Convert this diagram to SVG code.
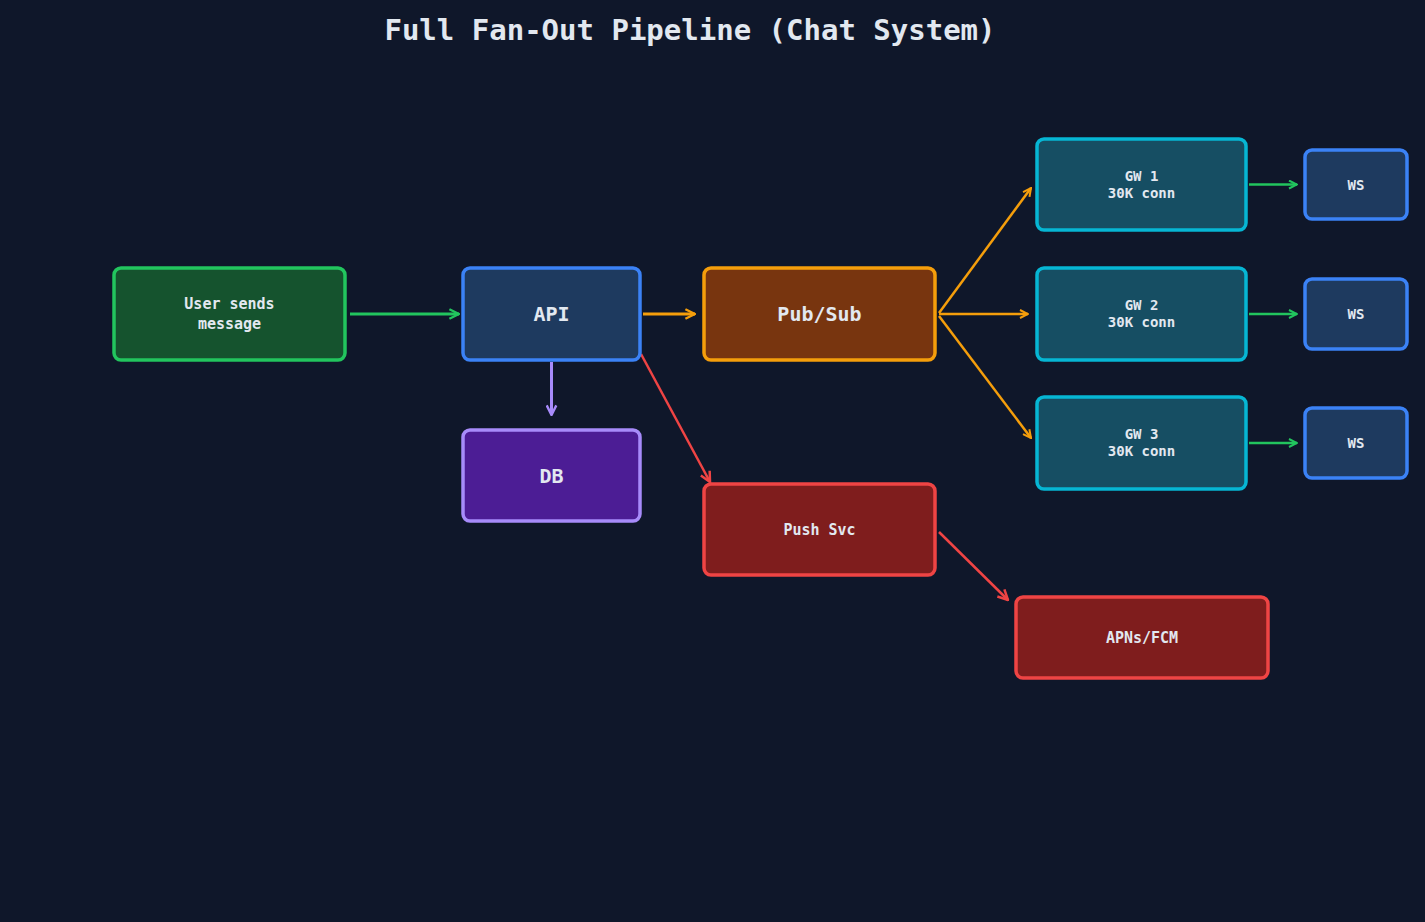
<svg xmlns="http://www.w3.org/2000/svg" width="1425" height="922" viewBox="0 0 1425 922">
<style>
text{font-family:"DejaVu Sans Mono","Liberation Mono",monospace;fill:#e2e8f0;text-anchor:middle;dominant-baseline:central;font-weight:bold}
.n rect{stroke-width:3.5}
.s{font-size:15px}.b{font-size:20px}
.c line{fill:none}
</style>
<defs>
<marker id="mg" viewBox="0 0 10 10" refX="9" refY="5" markerWidth="4" markerHeight="4" orient="auto" markerUnits="strokeWidth"><polyline points="1,1 9,5 1,9" fill="none" stroke="#22c55e" stroke-width="2"/></marker>
<marker id="mo" viewBox="0 0 10 10" refX="9" refY="5" markerWidth="4" markerHeight="4" orient="auto" markerUnits="strokeWidth"><polyline points="1,1 9,5 1,9" fill="none" stroke="#f59e0b" stroke-width="2"/></marker>
<marker id="mp" viewBox="0 0 10 10" refX="9" refY="5" markerWidth="4" markerHeight="4" orient="auto" markerUnits="strokeWidth"><polyline points="1,1 9,5 1,9" fill="none" stroke="#a78bfa" stroke-width="2"/></marker>
<marker id="mr" viewBox="0 0 10 10" refX="9" refY="5" markerWidth="5" markerHeight="5" orient="auto" markerUnits="strokeWidth"><polyline points="1,1 9,5 1,9" fill="none" stroke="#ef4444" stroke-width="2"/></marker>
</defs>
<rect width="1425" height="922" fill="#0f172a"/>
<text x="690" y="30" font-size="29">Full Fan-Out Pipeline (Chat System)</text>
<g class="c">
<line x1="350" y1="314" x2="459" y2="314" stroke="#22c55e" stroke-width="3" marker-end="url(#mg)"/>
<line x1="643" y1="314" x2="695" y2="314" stroke="#f59e0b" stroke-width="3" marker-end="url(#mo)"/>
<line x1="551.5" y1="362" x2="551.5" y2="415" stroke="#a78bfa" stroke-width="3" marker-end="url(#mp)"/>
<line x1="641" y1="354" x2="710" y2="482" stroke="#ef4444" stroke-width="2.5" marker-end="url(#mr)"/>
<line x1="939" y1="313" x2="1031" y2="188" stroke="#f59e0b" stroke-width="2.5" marker-end="url(#mo)"/>
<line x1="939" y1="314" x2="1028" y2="314" stroke="#f59e0b" stroke-width="2.5" marker-end="url(#mo)"/>
<line x1="939" y1="316" x2="1031" y2="438" stroke="#f59e0b" stroke-width="2.5" marker-end="url(#mo)"/>
<line x1="1249" y1="184.5" x2="1297" y2="184.5" stroke="#22c55e" stroke-width="2.5" marker-end="url(#mg)"/>
<line x1="1249" y1="314" x2="1297" y2="314" stroke="#22c55e" stroke-width="2.5" marker-end="url(#mg)"/>
<line x1="1249" y1="443" x2="1297" y2="443" stroke="#22c55e" stroke-width="2.5" marker-end="url(#mg)"/>
<line x1="939" y1="532" x2="1008" y2="600" stroke="#ef4444" stroke-width="2.5" marker-end="url(#mr)"/>
</g>
<g id="user" class="n"><rect x="114" y="268" width="231" height="92" rx="7" fill="#15532e" stroke="#22c55e"/><text x="229.5" y="304" class="s">User sends</text><text x="229.5" y="324" class="s">message</text></g>
<g id="api" class="n"><rect x="463" y="268" width="177" height="92" rx="7" fill="#1e3a5f" stroke="#3b82f6"/><text x="551.5" y="314" class="b">API</text></g>
<g id="db" class="n"><rect x="463" y="430" width="177" height="91" rx="7" fill="#4c1d95" stroke="#a78bfa"/><text x="551.5" y="475.5" class="b">DB</text></g>
<g id="pubsub" class="n"><rect x="704" y="268" width="231" height="92" rx="7" fill="#78350f" stroke="#f59e0b"/><text x="819.5" y="314" class="b">Pub/Sub</text></g>
<g id="push" class="n"><rect x="704" y="484" width="231" height="91" rx="7" fill="#7f1d1d" stroke="#ef4444"/><text x="819.5" y="529.5" class="s">Push Svc</text></g>
<g id="gw1" class="n"><rect x="1037" y="139" width="209" height="91" rx="7" fill="#164e63" stroke="#06b6d4"/><text x="1141.5" y="176" font-size="14">GW 1</text><text x="1141.5" y="193" font-size="14">30K conn</text></g>
<g id="gw2" class="n"><rect x="1037" y="268" width="209" height="92" rx="7" fill="#164e63" stroke="#06b6d4"/><text x="1141.5" y="305" font-size="14">GW 2</text><text x="1141.5" y="322" font-size="14">30K conn</text></g>
<g id="gw3" class="n"><rect x="1037" y="397" width="209" height="92" rx="7" fill="#164e63" stroke="#06b6d4"/><text x="1141.5" y="434" font-size="14">GW 3</text><text x="1141.5" y="451" font-size="14">30K conn</text></g>
<g id="ws1" class="n"><rect x="1305" y="150" width="102" height="69" rx="7" fill="#1e3a5f" stroke="#3b82f6"/><text x="1356" y="184.5" font-size="14">WS</text></g>
<g id="ws2" class="n"><rect x="1305" y="279" width="102" height="70" rx="7" fill="#1e3a5f" stroke="#3b82f6"/><text x="1356" y="314" font-size="14">WS</text></g>
<g id="ws3" class="n"><rect x="1305" y="408" width="102" height="70" rx="7" fill="#1e3a5f" stroke="#3b82f6"/><text x="1356" y="443" font-size="14">WS</text></g>
<g id="apns" class="n"><rect x="1016" y="597" width="252" height="81" rx="7" fill="#7f1d1d" stroke="#ef4444"/><text x="1142" y="637.5" class="s">APNs/FCM</text></g>
</svg>
